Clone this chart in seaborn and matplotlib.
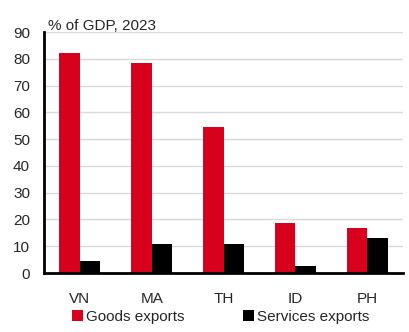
import matplotlib
matplotlib.use("Agg")
import matplotlib.pyplot as plt
from matplotlib.patches import Patch
import pandas as pd
import seaborn as sns

countries = ["VN", "MA", "TH", "ID", "PH"]
goods = [82.2, 78.5, 54.4, 18.8, 16.9]
services = [4.6, 10.7, 10.7, 2.6, 13.2]
series = ["Goods exports", "Services exports"]
colors = ["#D7001D", "#000000"]
yticks = list(range(0, 100, 10))

df = pd.DataFrame({
    "country": countries * 2,
    "value": goods + services,
    "series": [series[0]] * len(countries) + [series[1]] * len(countries),
})

sns.set_style("white")
plt.rcParams["font.family"] = ["Liberation Sans", "DejaVu Sans"]

fig = plt.figure(figsize=(4.1, 3.32), dpi=100)
ax = fig.add_axes([0.1073, 0.1777, 0.876, 0.7259])

sns.barplot(data=df, x="country", y="value", hue="series", palette=colors,
            width=0.57, saturation=1, ax=ax, legend=False, edgecolor="none")

ax.set_ylim(0, 90)
ax.set_xlim(-0.5, len(countries) - 0.5)
ax.set_yticks(yticks)
ax.set_xlabel("")
ax.set_ylabel("")
ax.yaxis.grid(True, color="#D9D9D9", linewidth=1)
ax.set_axisbelow(True)

for side in ["top", "right"]:
    ax.spines[side].set_visible(False)
for side in ["left", "bottom"]:
    ax.spines[side].set_linewidth(2)
    ax.spines[side].set_color("black")

ax.tick_params(axis="y", direction="out", length=5, width=2, labelsize=11, pad=5)
ax.tick_params(axis="x", which="major", length=0, labelsize=11, pad=14)
ax.set_xticks([i - 0.5 for i in range(len(countries) + 1)], minor=True)
ax.tick_params(axis="x", which="minor", direction="out", length=5, width=2)

fig.text(0.117, 0.9096, "% of GDP, 2023", fontsize=11, ha="left", va="baseline")

handles = [Patch(facecolor=c, edgecolor="none") for c in colors]
fig.legend(handles, series, loc="center", bbox_to_anchor=(0.538, 0.045), ncol=2,
           frameon=False, fontsize=11, handlelength=0.75, handleheight=0.7,
           handletextpad=0.2, columnspacing=3.8, borderaxespad=0, borderpad=0)

fig.savefig("out.png", dpi=100)
